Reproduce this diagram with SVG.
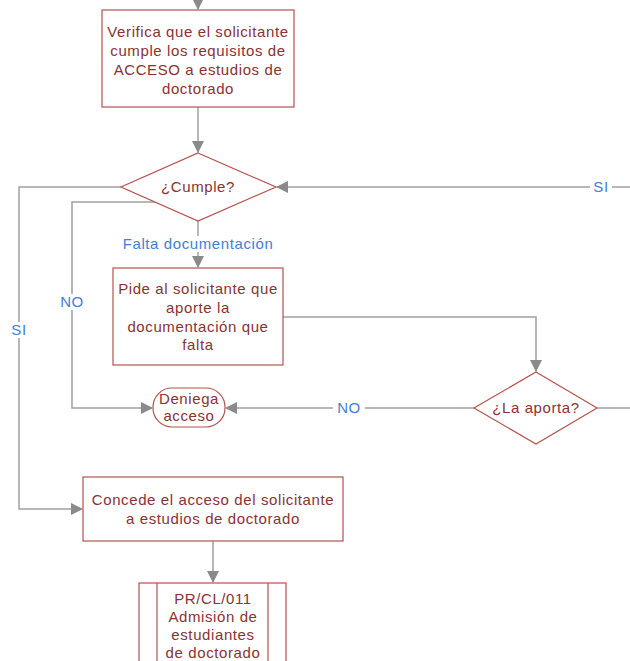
<svg xmlns="http://www.w3.org/2000/svg" width="630" height="661" viewBox="0 0 630 661">
<style>
.n{fill:#fff;stroke:#b5524e;stroke-width:1.2}
.t{font-family:"Liberation Sans",Arial,sans-serif;font-size:15px;letter-spacing:0.6px;fill:#8a3232;text-anchor:middle}
.c{fill:none;stroke:#a0a0a0;stroke-width:1.5}
.l{font-family:"Liberation Sans",Arial,sans-serif;font-size:15px;letter-spacing:0.6px;fill:#3f7fd4;text-anchor:middle}
.bg{fill:#fff}
</style>
<defs>
<marker id="a" markerWidth="12" markerHeight="12" refX="11" refY="6" orient="auto" markerUnits="userSpaceOnUse">
<path d="M0,0 L12,6 L0,12 Z" fill="#8a8a8a"/>
</marker>
</defs>
<g id="connectors">
<path class="c" d="M198,0 V9" marker-end="url(#a)"/>
<path class="c" d="M198,107 V152" marker-end="url(#a)"/>
<path class="c" d="M630,187 H277" marker-end="url(#a)"/>
<path class="c" d="M121,187 H19 V509 H82" marker-end="url(#a)"/>
<path class="c" d="M155,202 H72 V408 H152" marker-end="url(#a)"/>
<path class="c" d="M198,221 V267" marker-end="url(#a)"/>
<path class="c" d="M283,317 H536 V371" marker-end="url(#a)"/>
<path class="c" d="M474,408 H226" marker-end="url(#a)"/>
<path class="c" d="M597,408 H630"/>
<path class="c" d="M213,541 V582" marker-end="url(#a)"/>
<rect class="bg" x="590" y="179" width="22" height="16"/>
<text class="l" x="601" y="192">SI</text>
<rect class="bg" x="10" y="322" width="18" height="16"/>
<text class="l" x="19" y="335">SI</text>
<rect class="bg" x="56" y="294" width="32" height="16"/>
<text class="l" x="72" y="307">NO</text>
<rect class="bg" x="333" y="400" width="32" height="16"/>
<text class="l" x="349" y="413">NO</text>
<rect class="bg" x="118" y="236" width="160" height="16"/>
<text class="l" x="198" y="249">Falta documentación</text>
</g>
<g id="verifica">
<rect class="n" x="102" y="10" width="192" height="97"/>
<text class="t" x="198" y="37">Verifica que el solicitante</text>
<text class="t" x="198" y="56">cumple los requisitos de</text>
<text class="t" x="198" y="75">ACCESO a estudios de</text>
<text class="t" x="198" y="94">doctorado</text>
</g>
<g id="cumple">
<polygon class="n" points="198,153 276,187 198,221 121,187"/>
<text class="t" x="198" y="192">¿Cumple?</text>
</g>
<g id="pide">
<rect class="n" x="113" y="268" width="170" height="97"/>
<text class="t" x="198" y="294">Pide al solicitante que</text>
<text class="t" x="198" y="313">aporte la</text>
<text class="t" x="198" y="332">documentación que</text>
<text class="t" x="198" y="350">falta</text>
</g>
<g id="aporta">
<polygon class="n" points="536,372 597,408 536,444 474,408"/>
<text class="t" x="536" y="413">¿La aporta?</text>
</g>
<g id="deniega">
<rect class="n" x="153" y="388" width="72" height="39" rx="19" ry="19"/>
<text class="t" x="189" y="404">Deniega</text>
<text class="t" x="189" y="421">acceso</text>
</g>
<g id="concede">
<rect class="n" x="83" y="477" width="260" height="64"/>
<text class="t" x="213" y="505">Concede el acceso del solicitante</text>
<text class="t" x="213" y="524">a estudios de doctorado</text>
</g>
<g id="pr">
<rect class="n" x="139" y="583" width="147" height="90"/>
<line class="n" x1="157" y1="583" x2="157" y2="673"/>
<line class="n" x1="268" y1="583" x2="268" y2="673"/>
<text class="t" x="213" y="604">PR/CL/011</text>
<text class="t" x="213" y="622">Admisión de</text>
<text class="t" x="213" y="640">estudiantes</text>
<text class="t" x="213" y="658">de doctorado</text>
</g>
</svg>
